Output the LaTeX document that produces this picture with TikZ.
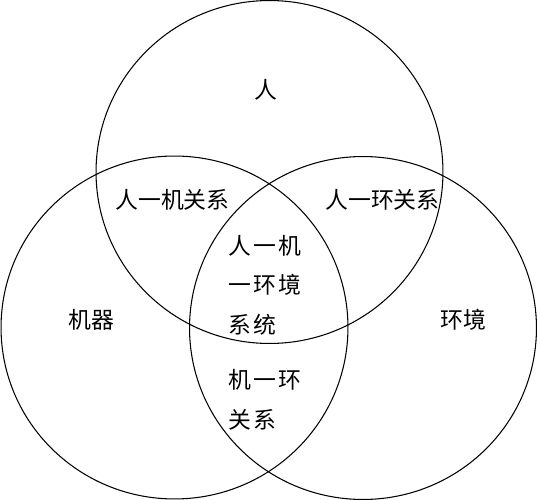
\documentclass[tikz,border=0pt]{standalone}
\usepackage{fontspec}
\newfontfamily\cjk{Noto Sans CJK SC}
\tikzset{
  ring/.style = {draw=black, line width=0.6pt},
  tag/.style = {inner sep=0pt, font=\cjk\fontsize{13}{22.5}\selectfont},
  block/.style = {tag, align=left, anchor=west,
    font=\cjk\fontsize{13}{22.5}\selectfont\addfontfeature{LetterSpace=10}}
}

\begin{document}
\begin{tikzpicture}[x=0.02cm,y=-0.02cm]
  \useasboundingbox (0,0) rectangle (538,500);
  % the three sets
  \draw[ring] (269.5,172) ellipse (3.47cm and 3.43cm);
  \draw[ring] (174.5,327.5) ellipse (3.47cm and 3.43cm);
  \draw[ring] (363,328) ellipse (3.47cm and 3.43cm);
  % labels
  \node[tag] (ren) at (265.5,90) {人};
  \node[tag] (jiqi) at (91,320) {机器};
  \node[tag] (huanjing) at (463,320) {环境};
  \node[tag] (renji) at (172.5,200) {人一机关系};
  \node[tag] (renhuan) at (382.5,200) {人一环关系};
  \node[block] (xitong) at (228,285) {人一机\\一环境\\系统};
  \node[block] (jihuan) at (228,400) {机一环\\关系};
\end{tikzpicture}
\end{document}
